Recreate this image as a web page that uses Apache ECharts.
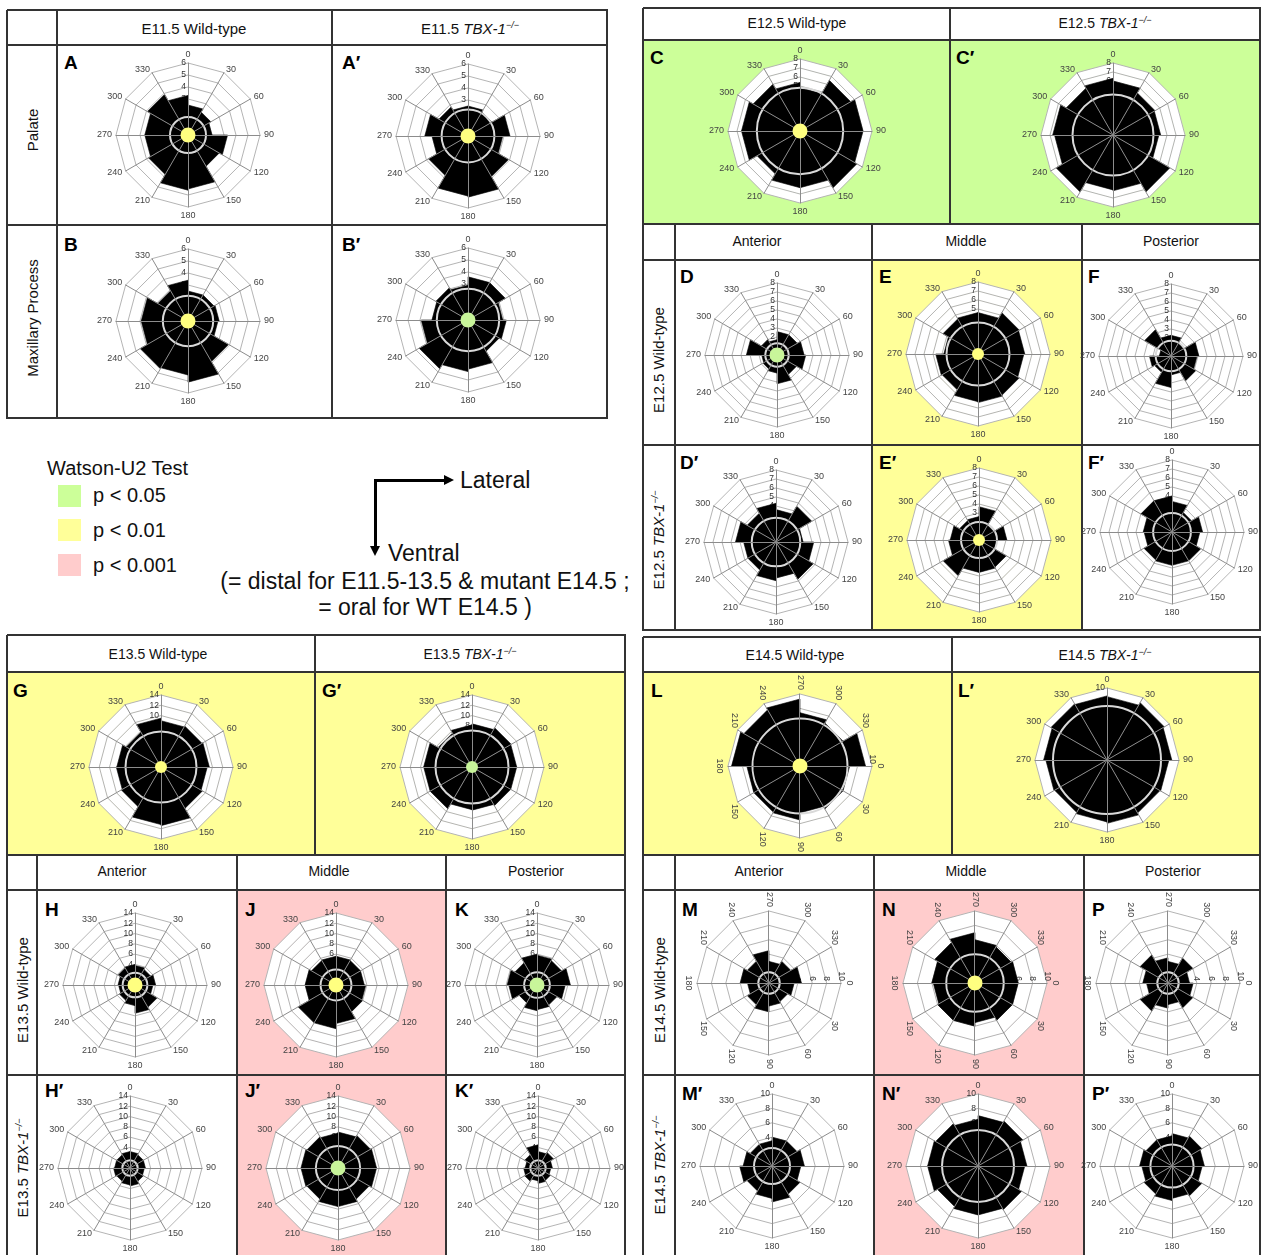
<!DOCTYPE html>
<html>
<head>
<meta charset="utf-8">
<script src="https://cdn.jsdelivr.net/npm/echarts@6/dist/echarts.min.js"></script>
<style>
body { margin: 0; background: #fff; font-family: 'Liberation Sans', Arial, sans-serif; }
#page { position: relative; width: 1261px; height: 1255px; overflow: hidden; background: #fff; }
.bg { position: absolute; }
.ln { position: absolute; background: #333; }
.t { position: absolute; white-space: nowrap; color: #111; transform: translate(-50%, -50%); }
.lt { position: absolute; font-weight: bold; font-size: 19px; color: #000; line-height: 1; }
.rot { position: absolute; white-space: nowrap; color: #111; font-size: 15px; transform: translate(-50%, -50%) rotate(-90deg); }
.ch { position: absolute; width: 200px; height: 200px; }
</style>
</head>
<body>
<div id="page"></div>
<script>
// angle ticks, clockwise from the top
var angleLabels = ["0", "30", "60", "90", "120", "150", "180", "210", "240", "270", "300", "330"];

// counts per 30 degree bin, bins start at 0,30,...,330
var binsA = [2.5, 2.2, 2.0, 3.3, 3.0, 4.5, 4.6, 3.8, 3.6, 3.6, 3.9, 3.3];
var binsA2 = [2.5, 2.3, 3.5, 2.9, 3.9, 5.1, 5.0, 3.8, 3.0, 3.6, 2.8, 2.5];
var binsB = [2.5, 2.5, 2.6, 2.5, 3.9, 5.1, 4.5, 4.6, 3.9, 3.9, 2.9, 3.4];
var binsB2 = [3.6, 3.6, 2.9, 3.2, 3.0, 4.1, 4.3, 4.7, 3.9, 3.0, 3.1, 2.9];
var binsC = [4.8, 6.5, 7.0, 7.0, 7.3, 6.3, 6.3, 5.5, 6.5, 6.5, 6.0, 5.4];
var binsC2 = [6.0, 5.4, 5.3, 5.1, 7.3, 6.2, 6.1, 7.3, 6.5, 6.7, 6.0, 6.3];
var binsD = [2.6, 2.6, 3.0, 3.2, 2.5, 3.2, 2.0, 1.8, 1.7, 3.4, 2.0, 1.7];
var binsE = [4.6, 5.3, 5.2, 5.1, 5.3, 5.4, 5.3, 4.6, 4.7, 3.8, 4.5, 4.6];
var binsF = [2.3, 1.7, 3.1, 2.9, 3.2, 2.1, 3.5, 2.1, 2.4, 1.3, 3.4, 2.3];
var binsD2 = [3.6, 4.6, 3.0, 4.2, 4.8, 4.0, 4.3, 3.6, 3.6, 4.5, 3.7, 4.3];
var binsE2 = [3.7, 1.9, 3.1, 2.0, 3.5, 3.6, 3.6, 4.6, 3.4, 3.2, 2.5, 2.6];
var binsF2 = [3.4, 2.5, 3.4, 3.1, 3.7, 3.7, 3.7, 3.6, 3.1, 3.2, 4.0, 4.0];
var binsG = [9.0, 9.2, 9.4, 9.0, 9.3, 11.4, 11.2, 8.9, 8.7, 8.6, 7.8, 9.5];
var binsG2 = [8.4, 8.8, 8.7, 8.7, 8.7, 8.4, 8.3, 9.4, 9.4, 9.4, 7.6, 8.2];
var binsH = [3.8, 3.5, 4.0, 3.5, 5.0, 5.5, 4.0, 3.5, 3.2, 3.3, 3.8, 4.0];
var binsJ = [5.6, 5.5, 5.5, 5.8, 6.0, 7.5, 8.5, 8.5, 6.0, 6.0, 5.5, 5.6];
var binsK = [5.8, 5.5, 6.5, 5.5, 4.5, 4.8, 5.0, 4.0, 5.5, 5.8, 5.0, 6.0];
var binsH2 = [3.2, 3.0, 3.0, 2.8, 3.0, 3.5, 3.3, 3.0, 3.2, 3.0, 3.0, 3.2];
var binsJ2 = [7.0, 7.3, 7.5, 7.5, 7.0, 7.5, 7.5, 7.0, 7.2, 7.2, 7.0, 6.8];
var binsK2 = [3.2, 3.5, 2.8, 2.5, 2.8, 3.0, 2.5, 3.0, 2.8, 2.5, 3.0, 4.5];
var binsL = [6.9, 6.9, 6.5, 7.5, 7.4, 7.4, 9.5, 9.0, 9.3, 7.4, 6.9, 9.1];
var binsL2 = [8.8, 9.2, 9.0, 8.6, 8.5, 8.8, 8.6, 8.4, 8.5, 8.8, 9.0, 8.9];
var binsM = [3.5, 3.0, 3.2, 4.0, 3.5, 3.0, 4.0, 3.5, 4.5, 3.0, 3.5, 4.5];
var binsN = [6.0, 6.0, 5.5, 6.0, 6.0, 5.8, 6.0, 6.5, 7.0, 6.0, 5.8, 6.0];
var binsP = [3.5, 4.0, 3.0, 3.5, 4.5, 3.0, 3.5, 4.5, 3.5, 3.0, 4.0, 3.0];
var binsM2 = [4.0, 4.0, 4.5, 4.0, 4.5, 5.0, 4.5, 4.0, 4.5, 4.0, 3.5, 3.5];
var binsN2 = [7.0, 7.2, 6.8, 6.5, 7.0, 6.8, 6.8, 6.5, 7.0, 7.0, 6.8, 6.5];
var binsP2 = [4.5, 4.8, 4.5, 4.2, 4.8, 4.5, 4.8, 4.5, 4.2, 4.5, 4.2, 4.2];

// radius of the pale reference circle in each plot
var circleVals = {
  A: 1.5, A2: 2.2, B: 2.1, B2: 2.6, C: 4.8, C2: 4.5,
  D: 1.3, E: 3.5, F: 1.7, D2: 2.7, E2: 2.0, F2: 2.1,
  G: 6.9, G2: 7.1, H: 2.4, J: 3.0, K: 2.5, H2: 1.5, J2: 4.3, K2: 1.5,
  L: 6.6, L2: 7.5, M: 1.5, N: 4, P: 1.5, M2: 2.5, N2: 5, P2: 3
};

var GREEN = "#ccff99", YELLOW = "#ffff99", PINK = "#ffcccc";
var DOT_Y = "#ffff80", DOT_G = "#c8f59a";

var page = document.getElementById("page");

function add(cls, x, y, w, h, html, css) {
  var d = document.createElement("div");
  d.className = cls;
  d.style.left = x + "px";
  d.style.top = y + "px";
  if (w != null) d.style.width = w + "px";
  if (h != null) d.style.height = h + "px";
  if (html) d.innerHTML = html;
  if (css) d.style.cssText += css;
  page.appendChild(d);
  return d;
}
function fill(x1, y1, x2, y2, color) { add("bg", x1, y1, x2 - x1, y2 - y1, "", "background:" + color); }
function hl(x1, x2, y) { add("ln", x1, y - 1, x2 - x1 + 1, 2); }
function vl(x, y1, y2) { add("ln", x - 1, y1, 2, y2 - y1 + 1); }
function txt(x, y, html, size) { add("t", x, y, null, null, html, "font-size:" + (size || 15) + "px"); }
function ltxt(x, y, html, size) {
  add("t", x, y, null, null, html, "font-size:" + size + "px;transform:translate(0,-50%)");
}
function rtxt(x, y, html) { add("rot", x, y, null, null, html); }
function letter(x, y, s) { add("lt", x, y, null, null, s); }

function tbx(stage) {
  return stage + " <i>TBX-1</i><sup style='font-size:9px'><i>&minus;/&minus;</i></sup>";
}

// ---- backgrounds ----
fill(643, 40, 1261, 224, GREEN);
fill(872, 260, 1082, 445, YELLOW);
fill(872, 445, 1082, 630, YELLOW);
fill(7, 672, 625, 855, YELLOW);
fill(237, 890, 446, 1075, PINK);
fill(237, 1075, 446, 1255, PINK);
fill(643, 672, 1261, 855, YELLOW);
fill(874, 890, 1084, 1075, PINK);
fill(874, 1075, 1084, 1255, PINK);

// ---- top-left table ----
hl(7, 607, 10); hl(7, 607, 45); hl(7, 607, 225); hl(7, 607, 418);
vl(7, 10, 418); vl(57, 10, 418); vl(332, 10, 418); vl(607, 10, 418);
txt(194, 28, "E11.5 Wild-type");
txt(470, 28, tbx("E11.5"));
rtxt(32, 130, "Palate");
rtxt(32, 318, "Maxillary Process");
letter(64, 53, "A"); letter(342, 53, "A&prime;");
letter(64, 235, "B"); letter(342, 235, "B&prime;");

// ---- top-right block ----
hl(643, 1261, 8); hl(643, 1261, 40); hl(643, 1261, 224); hl(643, 1261, 260);
hl(643, 1261, 445); hl(643, 1261, 630);
vl(643, 8, 630); vl(950, 8, 224); vl(1260, 8, 630);
vl(675, 224, 630); vl(872, 224, 630); vl(1082, 224, 630);
txt(797, 23, "E12.5 Wild-type", 14);
txt(1105, 23, tbx("E12.5"), 14);
letter(650, 48, "C"); letter(956, 48, "C&prime;");
txt(757, 241, "Anterior", 14); txt(966, 241, "Middle", 14); txt(1171, 241, "Posterior", 14);
letter(680, 267, "D"); letter(879, 267, "E"); letter(1088, 267, "F");
letter(680, 453, "D&prime;"); letter(879, 453, "E&prime;"); letter(1088, 453, "F&prime;");
rtxt(658, 360, "E12.5 Wild-type");
rtxt(658, 540, tbx("E12.5"));

// ---- legend and axes key ----
ltxt(47, 468, "Watson-U2 Test", 20);
fill(58, 485, 81, 507, GREEN);
fill(58, 519, 81, 541, YELLOW);
fill(58, 554, 81, 576, PINK);
ltxt(93, 495, "p &lt; 0.05", 20);
ltxt(93, 530, "p &lt; 0.01", 20);
ltxt(93, 565, "p &lt; 0.001", 20);
add("ln", 374, 479, 72, 3, "", "background:#000");
add("ln", 374, 479, 3, 70, "", "background:#000");
add("bg", 444, 475, 0, 0, "", "border-left:10px solid #000;border-top:5px solid transparent;border-bottom:5px solid transparent");
add("bg", 370, 546, 0, 0, "", "border-top:10px solid #000;border-left:5px solid transparent;border-right:5px solid transparent");
ltxt(460, 480, "Lateral", 23);
ltxt(388, 553, "Ventral", 23);
txt(425, 581, "(= distal for E11.5-13.5 &amp; mutant E14.5 ;", 23);
txt(425, 607, "= oral for WT E14.5 )", 23);

// ---- bottom-left block ----
hl(7, 625, 635); hl(7, 625, 672); hl(7, 625, 855); hl(7, 625, 890); hl(7, 625, 1075);
vl(7, 635, 1255); vl(625, 635, 1255); vl(315, 635, 855);
vl(37, 855, 1255); vl(237, 855, 1255); vl(446, 855, 1255);
txt(158, 654, "E13.5 Wild-type", 14);
txt(470, 654, tbx("E13.5"), 14);
letter(13, 681, "G"); letter(322, 681, "G&prime;");
txt(122, 871, "Anterior", 14); txt(329, 871, "Middle", 14); txt(536, 871, "Posterior", 14);
letter(45, 900, "H"); letter(245, 900, "J"); letter(455, 900, "K");
letter(45, 1081, "H&prime;"); letter(245, 1081, "J&prime;"); letter(455, 1081, "K&prime;");
rtxt(22, 990, "E13.5 Wild-type");
rtxt(22, 1168, tbx("E13.5"));

// ---- bottom-right block ----
hl(643, 1261, 637); hl(643, 1261, 672); hl(643, 1261, 855); hl(643, 1261, 890); hl(643, 1261, 1075);
vl(643, 637, 1255); vl(1260, 637, 1255); vl(952, 637, 855);
vl(675, 855, 1255); vl(874, 855, 1255); vl(1084, 855, 1255);
txt(795, 655, "E14.5 Wild-type", 14);
txt(1105, 655, tbx("E14.5"), 14);
letter(651, 681, "L"); letter(958, 681, "L&prime;");
txt(759, 871, "Anterior", 14); txt(966, 871, "Middle", 14); txt(1173, 871, "Posterior", 14);
letter(682, 900, "M"); letter(882, 900, "N"); letter(1092, 900, "P");
letter(682, 1084, "M&prime;"); letter(882, 1084, "N&prime;"); letter(1092, 1084, "P&prime;");
rtxt(659, 990, "E14.5 Wild-type");
rtxt(659, 1165, tbx("E14.5"));

// ---- rose plots ----
var radarNames = [0, 11, 10, 9, 8, 7, 6, 5, 4, 3, 2, 1].map(function (i) { return angleLabels[i]; });

function rose(cfg) {
  var d = document.createElement("div");
  d.className = "ch";
  d.style.left = (cfg.x - 100) + "px";
  d.style.top = (cfg.y - 100) + "px";
  if (cfg.rot) d.style.transform = "rotate(90deg)";
  page.appendChild(d);
  var chart = echarts.init(d);
  var R = cfg.r || 72;
  var ind = radarNames.map(function (s) {
    return { name: s, min: 0, max: cfg.max };
  });
  var radarBase = {
    center: ["50%", "50%"],
    radius: R,
    startAngle: 90,
    shape: "polygon",
    splitNumber: cfg.max / cfg.step,
    indicator: ind,
    axisLabel: { show: false },
    axisTick: { show: false }
  };
  var series = [
    {
      type: "custom",
      coordinateSystem: "polar",
      z: 2,
      renderItem: function (params, api) {
        var v = api.value(0), a = api.value(1);
        var c = api.coord([0, a]);
        var p1 = api.coord([v, a]);
        var p2 = api.coord([v, a + 30]);
        return {
          type: "polygon",
          shape: { points: [c, p1, p2] },
          style: { fill: "#000", stroke: "#000", lineWidth: 0.6 }
        };
      },
      data: cfg.bins.map(function (v, i) { return [v, i * 30]; })
    },
    {
      type: "custom",
      coordinateSystem: "polar",
      z: 2.5,
      renderItem: function (params, api) {
        var c = api.coord([0, 0]);
        var p = api.coord([api.value(0), 0]);
        var rr = Math.sqrt((p[0] - c[0]) * (p[0] - c[0]) + (p[1] - c[1]) * (p[1] - c[1]));
        return {
          type: "circle",
          z2: 10,
          shape: { cx: c[0], cy: c[1], r: rr },
          style: { fill: "none", stroke: "#d9d9d9", lineWidth: 2 }
        };
      },
      data: [[cfg.circle, 0]]
    }
  ];
  if (cfg.dot) {
    series.push({
      type: "scatter",
      coordinateSystem: "polar",
      z: 6,
      symbolSize: cfg.dotSize || 15,
      silent: true,
      itemStyle: { color: cfg.dot, opacity: 1 },
      data: [[0, 0]]
    });
  }
  chart.setOption({
    animation: false,
    backgroundColor: "transparent",
    polar: { center: ["50%", "50%"], radius: R },
    angleAxis: {
      type: "value", min: 0, max: 360, startAngle: 90, clockwise: true, show: false
    },
    radiusAxis: {
      type: "value", min: 0, max: cfg.max, interval: cfg.step, z: 1,
      axisLine: { show: false }, axisTick: { show: false }, splitLine: { show: false },
      axisLabel: {
        fontSize: 8.5, color: "#333", margin: 2, fontFamily: "Liberation Sans",
        formatter: function (v) { return v === 0 ? "" : String(v); }
      }
    },
    radar: [
      Object.assign({}, radarBase, {
        z: 0,
        axisName: { color: "#444", fontSize: 9, fontFamily: "Liberation Sans" },
        nameGap: 4,
        axisLine: { show: false },
        splitLine: { lineStyle: { color: "#b4b4b4", width: 1 } },
        splitArea: { show: true, areaStyle: { color: ["#fff", "#fff"] } }
      }),
      Object.assign({}, radarBase, {
        z: 4,
        axisName: { show: false },
        axisLine: { lineStyle: { color: "#8c8c8c", width: 1 } },
        splitLine: { show: false },
        splitArea: { show: false }
      })
    ],
    series: series
  });
}

var plots = [
  { x: 188, y: 135, max: 6, step: 1, bins: binsA, circle: circleVals.A, dot: DOT_Y },
  { x: 468, y: 136, max: 6, step: 1, bins: binsA2, circle: circleVals.A2, dot: DOT_Y },
  { x: 188, y: 321, max: 6, step: 1, bins: binsB, circle: circleVals.B, dot: DOT_Y },
  { x: 468, y: 320, max: 6, step: 1, bins: binsB2, circle: circleVals.B2, dot: DOT_G },
  { x: 800, y: 131, max: 8, step: 1, bins: binsC, circle: circleVals.C, dot: DOT_Y },
  { x: 1113, y: 135, max: 8, step: 1, bins: binsC2, circle: circleVals.C2 },
  { x: 777, y: 355, max: 8, step: 1, bins: binsD, circle: circleVals.D, dot: DOT_G },
  { x: 978, y: 354, max: 8, step: 1, bins: binsE, circle: circleVals.E, dot: DOT_Y, dotSize: 12 },
  { x: 1171, y: 356, max: 8, step: 1, bins: binsF, circle: circleVals.F },
  { x: 776, y: 542, max: 8, step: 1, bins: binsD2, circle: circleVals.D2 },
  { x: 979, y: 540, max: 8, step: 1, bins: binsE2, circle: circleVals.E2, dot: DOT_Y, dotSize: 12 },
  { x: 1172, y: 532, max: 8, step: 1, bins: binsF2, circle: circleVals.F2 },
  { x: 161, y: 767, max: 14, step: 2, bins: binsG, circle: circleVals.G, dot: DOT_Y, dotSize: 12 },
  { x: 472, y: 767, max: 14, step: 2, bins: binsG2, circle: circleVals.G2, dot: DOT_G, dotSize: 12 },
  { x: 135, y: 985, max: 14, step: 2, bins: binsH, circle: circleVals.H, dot: DOT_Y },
  { x: 336, y: 985, max: 14, step: 2, bins: binsJ, circle: circleVals.J, dot: DOT_Y },
  { x: 537, y: 985, max: 14, step: 2, bins: binsK, circle: circleVals.K, dot: DOT_G },
  { x: 130, y: 1168, max: 14, step: 2, bins: binsH2, circle: circleVals.H2 },
  { x: 338, y: 1168, max: 14, step: 2, bins: binsJ2, circle: circleVals.J2, dot: DOT_G },
  { x: 538, y: 1168, max: 14, step: 2, bins: binsK2, circle: circleVals.K2 },
  { x: 800, y: 766, max: 10, step: 2, bins: binsL, circle: circleVals.L, dot: DOT_Y, rot: true },
  { x: 1107, y: 760, max: 10, step: 2, bins: binsL2, circle: circleVals.L2 },
  { x: 769, y: 983, max: 10, step: 2, bins: binsM, circle: circleVals.M, rot: true },
  { x: 975, y: 983, max: 10, step: 2, bins: binsN, circle: circleVals.N, dot: DOT_Y, rot: true },
  { x: 1168, y: 983, max: 10, step: 2, bins: binsP, circle: circleVals.P, rot: true },
  { x: 772, y: 1166, max: 10, step: 2, bins: binsM2, circle: circleVals.M2 },
  { x: 978, y: 1166, max: 10, step: 2, bins: binsN2, circle: circleVals.N2 },
  { x: 1172, y: 1166, max: 10, step: 2, bins: binsP2, circle: circleVals.P2 }
];
plots.forEach(rose);
</script>
</body>
</html>
